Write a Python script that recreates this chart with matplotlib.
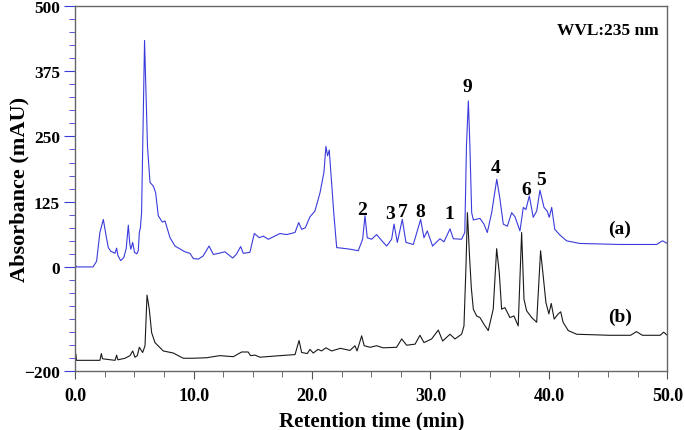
import matplotlib
matplotlib.use("Agg")
import matplotlib.pyplot as plt
from matplotlib.ticker import MultipleLocator, FixedLocator

plt.rcParams['font.family'] = ['Liberation Serif', 'DejaVu Serif']
plt.rcParams['font.weight'] = 'bold'

# trace (a) - blue (min, mAU)
time_a = [0.0, 0.1, 1.5, 1.8, 2.08, 2.37, 2.6, 2.79, 3.0, 3.2, 3.35, 3.49, 3.6, 3.83,
          4.1, 4.3, 4.48, 4.6, 4.69, 4.85, 5.0, 5.2, 5.32, 5.41, 5.5, 5.6, 5.75, 5.85,
          5.95, 6.1, 6.31, 6.59, 6.79, 7.01, 7.35, 7.58, 8.0, 8.42, 9.26, 9.69, 9.97,
          10.4, 10.8, 11.3, 11.66, 12.1, 12.64, 13.29, 13.6, 13.97, 14.19, 14.75, 15.12,
          15.54, 15.88, 16.3, 17.29, 17.85, 18.56, 18.87, 19.12, 19.43, 19.82, 20.24,
          20.67, 21.0, 21.17, 21.31, 21.45, 21.65, 21.85, 22.08, 22.5, 23.2, 23.9, 24.27,
          24.47, 24.66, 25.03, 25.45, 25.9, 26.3, 26.72, 26.92, 27.2, 27.62, 27.93, 28.55,
          29.17, 29.45, 29.73, 30.18, 30.8, 31.14, 31.65, 31.93, 32.63, 32.9, 33.04, 33.2,
          33.33, 33.48, 33.62, 34.18, 34.52, 34.8, 35.17, 35.6, 35.87, 36.15, 36.49,
          36.86, 37.14, 37.56, 37.84, 38.06, 38.35, 38.68, 38.97, 39.25, 39.59, 39.86,
          40.03, 40.24, 40.5, 40.94, 41.5, 42.6, 46.0, 49.1, 49.6, 50.0]
abs_a = [4, 0, 0, 11, 66, 91, 60, 37, 30, 28, 26, 36, 22, 12,
         18, 35, 80, 45, 34, 47, 28, 25, 31, 66, 75, 104, 300, 434,
         350, 230, 162, 155, 142, 98, 86, 88, 56, 40, 29, 26, 16,
         15, 21, 40, 24, 26, 29, 17, 24, 39, 26, 28, 64,
         56, 59, 53, 64, 62, 66, 85, 72, 75, 96, 107,
         142, 181, 231, 213, 224, 162, 98, 37, 36, 34, 31, 53,
         98, 56, 53, 62, 50, 40, 53, 82, 47, 91, 47, 43,
         91, 56, 69, 40, 54, 48, 73, 54, 53, 66, 232, 318,
         232, 104, 90, 93, 82, 66, 104, 168, 130, 82, 78,
         104, 96, 69, 114, 110, 136, 95, 107, 147, 114, 107,
         95, 114, 72, 61, 50, 45, 43, 43, 50, 45]

# trace (b) - black
time_b = [0.0, 0.05, 0.1, 2.08, 2.2, 2.3, 2.65, 3.36, 3.49, 3.6, 4.2, 4.62, 4.85, 5.04,
          5.24, 5.41, 5.69, 5.89, 6.06, 6.25, 6.45, 6.73, 7.43, 8.28, 9.12, 9.97, 11.1,
          12.2, 13.35, 14.05, 14.6, 14.8, 15.18, 15.6, 17.3, 18.56, 18.9, 19.12, 19.6,
          19.82, 20.1, 20.5, 20.8, 21.17, 21.65, 22.4, 23.2, 23.62, 23.8, 24.19, 24.4,
          24.9, 25.45, 26.0, 27.14, 27.57, 27.99, 28.7, 29.11, 29.45, 30.1, 30.66, 31.03,
          31.65, 32.07, 32.63, 32.83, 33.0, 33.12, 33.3, 33.45, 33.62, 33.9, 34.18, 34.52,
          34.88, 35.3, 35.59, 35.81, 36.01, 36.29, 36.71, 37.05, 37.41, 37.7, 37.9, 38.12,
          38.55, 38.97, 39.3, 39.52, 39.75, 40.0, 40.2, 40.45, 40.79, 41.0, 41.2, 41.64,
          42.35, 45.16, 46.9, 47.4, 47.9, 49.4, 49.7, 50.0]
abs_b = [-179, -167, -179, -179, -166, -176, -177, -179, -169, -178, -175, -170, -161, -173,
         -170, -154, -164, -151, -54, -81, -126, -145, -161, -165, -175, -175, -174,
         -170, -172, -163, -163, -170, -169, -173, -170, -168, -141, -164, -166,
         -158, -165, -158, -161, -155, -161, -156, -160, -151, -161, -132, -151,
         -154, -151, -155, -154, -138, -150, -148, -131, -145, -138, -121, -142,
         -129, -138, -129, -113, 2, 104, 20, -40, -81, -94, -97, -110,
         -122, -81, 35, -11, -81, -78, -97, -94, -113, 66, -62, -84,
         -97, -106, 31, -17, -68, -90, -70, -100, -90, -86, -106, -122,
         -129, -131, -131, -124, -131, -131, -125, -131]

peak_names = ['2', '3', '7', '8', '1', '9', '4', '6', '5']
peak_rt = [24.24, 26.58, 27.7, 29.1, 31.6, 33.14, 35.5, 38.1, 39.3]
peak_label_y = [101, 93, 98, 98, 93, 337, 181, 139, 158]

y_major = [-200, 0, 125, 250, 375, 500]

fig = plt.figure(figsize=(6.85, 4.31), dpi=100)
ax = fig.add_axes([0.1099, 0.1362, 0.8642, 0.8476])

ax.plot(time_a, abs_a, color='#3b3bdc', lw=0.8)
ax.plot(time_b, abs_b, color='#1a1a1a', lw=0.8)

for name, rt, yl in zip(peak_names, peak_rt, peak_label_y):
    ax.text(rt, yl, name, ha='center', va='baseline', fontsize=14, fontweight='bold')

ax.text(46.0, 73, '(a)', ha='center', va='center', fontsize=14, fontweight='bold')
ax.text(46.0, -95, '(b)', ha='center', va='center', fontsize=14, fontweight='bold')
ax.text(0.985, 0.955, 'WVL:235 nm', transform=ax.transAxes, ha='right', va='top',
        fontsize=12.5, fontweight='bold')

ax.set_xlim(0, 50)
ax.set_ylim(-200, 500)
ax.xaxis.set_major_locator(MultipleLocator(10))
ax.xaxis.set_minor_locator(MultipleLocator(2.5))
ax.yaxis.set_major_locator(FixedLocator(y_major))
ax.yaxis.set_minor_locator(MultipleLocator(25))
ax.set_xticklabels([f'{v:.1f}' for v in ax.get_xticks()])

ax.tick_params(axis='y', which='major', length=8, color='#3b3bdc', labelsize=12.5, pad=3)
ax.tick_params(axis='y', which='minor', length=4, color='#3b3bdc')
ax.tick_params(axis='x', which='major', length=6, color='#555555', labelsize=13, pad=5)
ax.tick_params(axis='x', which='minor', length=4, color='#555555')
for lab in ax.get_xticklabels() + ax.get_yticklabels():
    lab.set_fontweight('bold')

for s in ax.spines.values():
    s.set_color('#666666')
    s.set_linewidth(1.0)

ax.set_xlabel('Retention time (min)', fontsize=15, fontweight='bold', labelpad=5)
ax.set_ylabel('Absorbance (mAU)', fontsize=16, fontweight='bold')
ax.yaxis.set_label_coords(-0.078, 0.5)

fig.savefig('out.png', dpi=100)
